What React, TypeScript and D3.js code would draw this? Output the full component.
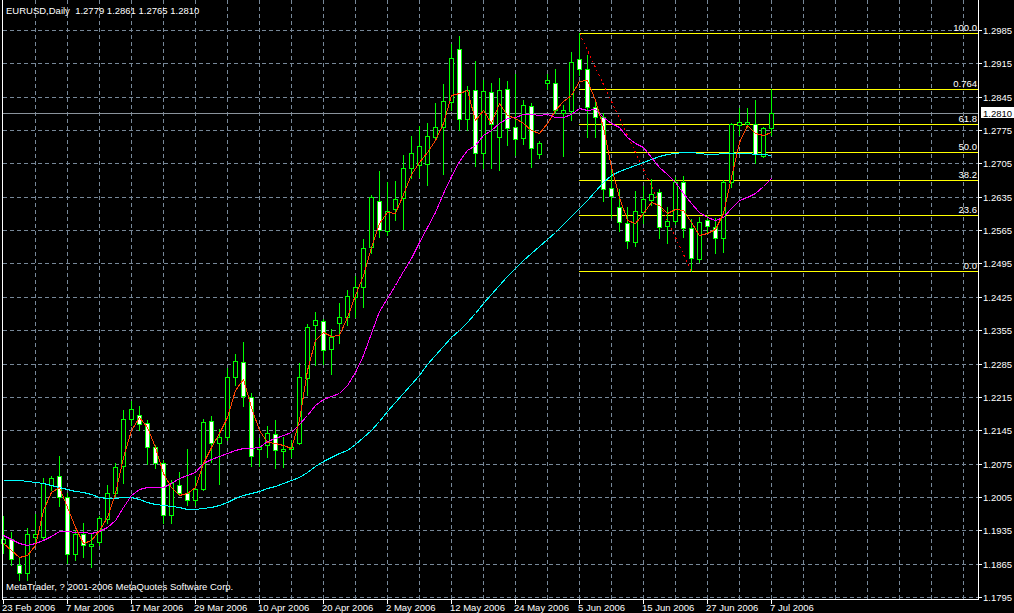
import React from "react";
import * as d3 from "d3";

const title = "EURUSD,Daily  1.2779 1.2861 1.2765 1.2810";
const copyright = "MetaTrader, ? 2001-2006 MetaQuotes Software Corp.";

const dateLabels = ["23 Feb 2006", "7 Mar 2006", "17 Mar 2006", "29 Mar 2006", "10 Apr 2006", "20 Apr 2006", "2 May 2006", "12 May 2006", "24 May 2006", "5 Jun 2006", "15 Jun 2006", "27 Jun 2006", "7 Jul 2006"];
const dateLabelBars = [0, 8, 16, 24, 32, 40, 48, 56, 64, 72, 80, 88, 96];

const priceTicks = [1.1795, 1.1865, 1.1935, 1.2005, 1.2075, 1.2145, 1.2215, 1.2285, 1.2355, 1.2425, 1.2495, 1.2565, 1.2635, 1.2705, 1.2775, 1.2845, 1.2915, 1.2985];
const priceTickLabels = ["1.1795", "1.1865", "1.1935", "1.2005", "1.2075", "1.2145", "1.2215", "1.2285", "1.2355", "1.2425", "1.2495", "1.2565", "1.2635", "1.2705", "1.2775", "1.2845", "1.2915", "1.2985"];

const opens = [1.1908, 1.1916, 1.1862, 1.1845, 1.1920, 1.1920, 1.2030, 1.2048, 1.2004, 1.1885, 1.1927, 1.1901, 1.1911, 1.1958, 1.2013, 1.2070, 1.2168, 1.2177, 1.2160, 1.2109, 1.2076, 1.1967, 1.2030, 1.2013, 1.1998, 1.2021, 1.2164, 1.2118, 1.2130, 1.2256, 1.2288, 1.2214, 1.2105, 1.2114, 1.2137, 1.2101, 1.2105, 1.2118, 1.2254, 1.2366, 1.2374, 1.2315, 1.2370, 1.2382, 1.2424, 1.2445, 1.2529, 1.2626, 1.2563, 1.2609, 1.2632, 1.2695, 1.2702, 1.2704, 1.2760, 1.2781, 1.2834, 1.2945, 1.2798, 1.2859, 1.2727, 1.2855, 1.2760, 1.2861, 1.2781, 1.2758, 1.2825, 1.2725, 1.2874, 1.2874, 1.2811, 1.2815, 1.2924, 1.2903, 1.2823, 1.2802, 1.2653, 1.2613, 1.2580, 1.2540, 1.2603, 1.2628, 1.2645, 1.2573, 1.2584, 1.2666, 1.2569, 1.2504, 1.2586, 1.2571, 1.2548, 1.2666, 1.2786, 1.2788, 1.2788, 1.2720, 1.2779];
const highs = [1.1966, 1.1931, 1.1876, 1.1939, 1.1970, 1.2044, 1.2048, 1.2090, 1.2013, 1.1935, 1.1950, 1.1927, 1.1964, 1.2030, 1.2076, 1.2187, 1.2206, 1.2195, 1.2166, 1.2114, 1.2082, 1.2040, 1.2057, 1.2105, 1.2048, 1.2168, 1.2174, 1.2147, 1.2275, 1.2305, 1.2330, 1.2223, 1.2128, 1.2153, 1.2166, 1.2130, 1.2124, 1.2286, 1.2368, 1.2393, 1.2378, 1.2357, 1.2412, 1.2439, 1.2468, 1.2546, 1.2639, 1.2689, 1.2666, 1.2668, 1.2723, 1.2762, 1.2783, 1.2790, 1.2832, 1.2872, 1.2956, 1.2972, 1.2867, 1.2920, 1.2880, 1.2874, 1.2884, 1.2878, 1.2893, 1.2838, 1.2832, 1.2752, 1.2893, 1.2903, 1.2828, 1.2939, 1.2978, 1.2932, 1.2836, 1.2811, 1.2691, 1.2651, 1.2613, 1.2647, 1.2657, 1.2672, 1.2651, 1.2613, 1.2676, 1.2678, 1.2588, 1.2592, 1.2597, 1.2590, 1.2670, 1.2790, 1.2821, 1.2821, 1.2838, 1.2781, 1.2861];
const lows = [1.1887, 1.1862, 1.1830, 1.1830, 1.1904, 1.1914, 1.2019, 1.1985, 1.1866, 1.1872, 1.1878, 1.1857, 1.1904, 1.1950, 1.2008, 1.2034, 1.2156, 1.2145, 1.2074, 1.2065, 1.1950, 1.1950, 1.2009, 1.1988, 1.1988, 1.2019, 1.2078, 1.2032, 1.2124, 1.2240, 1.2195, 1.2069, 1.2069, 1.2088, 1.2065, 1.2067, 1.2088, 1.2116, 1.2219, 1.2282, 1.2284, 1.2263, 1.2328, 1.2366, 1.2382, 1.2403, 1.2517, 1.2550, 1.2555, 1.2586, 1.2567, 1.2674, 1.2676, 1.2660, 1.2754, 1.2683, 1.2817, 1.2775, 1.2775, 1.2699, 1.2695, 1.2695, 1.2691, 1.2744, 1.2723, 1.2746, 1.2697, 1.2716, 1.2861, 1.2811, 1.2720, 1.2796, 1.2890, 1.2760, 1.2760, 1.2626, 1.2592, 1.2563, 1.2527, 1.2531, 1.2580, 1.2618, 1.2548, 1.2538, 1.2578, 1.2550, 1.2479, 1.2498, 1.2561, 1.2517, 1.2519, 1.2655, 1.2765, 1.2781, 1.2706, 1.2718, 1.2765];
const closes = [1.1916, 1.1874, 1.1845, 1.1927, 1.1927, 1.2034, 1.2044, 1.2004, 1.1885, 1.1927, 1.1904, 1.1906, 1.1960, 1.2013, 1.2067, 1.2168, 1.2189, 1.2158, 1.2109, 1.2076, 1.1967, 1.2034, 1.2013, 1.1998, 1.2021, 1.2162, 1.2118, 1.2130, 1.2256, 1.2290, 1.2216, 1.2090, 1.2109, 1.2139, 1.2103, 1.2105, 1.2109, 1.2256, 1.2361, 1.2376, 1.2313, 1.2340, 1.2382, 1.2426, 1.2445, 1.2527, 1.2634, 1.2565, 1.2605, 1.2630, 1.2695, 1.2727, 1.2741, 1.2762, 1.2781, 1.2836, 1.2926, 1.2798, 1.2859, 1.2727, 1.2857, 1.2788, 1.2859, 1.2779, 1.2756, 1.2828, 1.2737, 1.2748, 1.2880, 1.2817, 1.2817, 1.2918, 1.2903, 1.2823, 1.2802, 1.2651, 1.2636, 1.2582, 1.2542, 1.2605, 1.2630, 1.2641, 1.2571, 1.2584, 1.2666, 1.2569, 1.2506, 1.2582, 1.2573, 1.2548, 1.2666, 1.2788, 1.2792, 1.2792, 1.2725, 1.2779, 1.2810];

// moving averages (orange, magenta, cyan)
const maFast = [1.1908, 1.1893, 1.1878, 1.1883, 1.1904, 1.1977, 1.2015, 1.2025, 1.1983, 1.1941, 1.1908, 1.1914, 1.1935, 1.1962, 1.2013, 1.2088, 1.2145, 1.2172, 1.2151, 1.2109, 1.2055, 1.2025, 1.2009, 1.2013, 1.2025, 1.2076, 1.2109, 1.2139, 1.2172, 1.2229, 1.2252, 1.2193, 1.2145, 1.2120, 1.2118, 1.2114, 1.2107, 1.2166, 1.2271, 1.2334, 1.2351, 1.2342, 1.2345, 1.2382, 1.2429, 1.2471, 1.2529, 1.2580, 1.2603, 1.2601, 1.2641, 1.2683, 1.2708, 1.2729, 1.2754, 1.2790, 1.2849, 1.2853, 1.2859, 1.2796, 1.2817, 1.2790, 1.2832, 1.2807, 1.2800, 1.2790, 1.2775, 1.2769, 1.2790, 1.2817, 1.2836, 1.2849, 1.2878, 1.2880, 1.2838, 1.2781, 1.2697, 1.2634, 1.2586, 1.2580, 1.2601, 1.2624, 1.2618, 1.2601, 1.2609, 1.2607, 1.2582, 1.2555, 1.2559, 1.2567, 1.2601, 1.2676, 1.2750, 1.2786, 1.2769, 1.2765, 1.2771];
const maMid = [1.1925, 1.1916, 1.1908, 1.1904, 1.1908, 1.1914, 1.1922, 1.1933, 1.1933, 1.1931, 1.1931, 1.1929, 1.1933, 1.1941, 1.1956, 1.1983, 1.2009, 1.2021, 1.2025, 1.2025, 1.2025, 1.2034, 1.2044, 1.2051, 1.2057, 1.2076, 1.2084, 1.2090, 1.2097, 1.2103, 1.2107, 1.2107, 1.2109, 1.2122, 1.2128, 1.2135, 1.2141, 1.2158, 1.2177, 1.2198, 1.2210, 1.2216, 1.2223, 1.2240, 1.2267, 1.2303, 1.2349, 1.2395, 1.2422, 1.2450, 1.2479, 1.2506, 1.2540, 1.2571, 1.2603, 1.2643, 1.2678, 1.2710, 1.2733, 1.2744, 1.2765, 1.2775, 1.2790, 1.2800, 1.2802, 1.2809, 1.2809, 1.2807, 1.2809, 1.2802, 1.2802, 1.2809, 1.2821, 1.2817, 1.2819, 1.2802, 1.2790, 1.2781, 1.2760, 1.2748, 1.2739, 1.2718, 1.2697, 1.2683, 1.2666, 1.2643, 1.2622, 1.2603, 1.2592, 1.2586, 1.2592, 1.2611, 1.2628, 1.2634, 1.2643, 1.2657, 1.2674];
const maSlow = [1.2040, 1.2040, 1.2040, 1.2038, 1.2036, 1.2034, 1.2030, 1.2025, 1.2021, 1.2017, 1.2015, 1.2011, 1.2004, 1.2002, 1.2002, 1.2004, 1.2004, 1.2000, 1.1994, 1.1990, 1.1988, 1.1985, 1.1983, 1.1979, 1.1979, 1.1981, 1.1983, 1.1988, 1.1994, 1.2002, 1.2009, 1.2013, 1.2017, 1.2023, 1.2027, 1.2034, 1.2040, 1.2046, 1.2057, 1.2070, 1.2080, 1.2088, 1.2097, 1.2103, 1.2116, 1.2130, 1.2145, 1.2164, 1.2185, 1.2204, 1.2223, 1.2242, 1.2261, 1.2284, 1.2303, 1.2321, 1.2340, 1.2355, 1.2372, 1.2391, 1.2412, 1.2431, 1.2450, 1.2468, 1.2485, 1.2502, 1.2517, 1.2531, 1.2546, 1.2561, 1.2578, 1.2594, 1.2611, 1.2628, 1.2647, 1.2666, 1.2681, 1.2689, 1.2695, 1.2702, 1.2708, 1.2714, 1.2720, 1.2725, 1.2727, 1.2729, 1.2729, 1.2727, 1.2725, 1.2725, 1.2727, 1.2727, 1.2727, 1.2727, 1.2725, 1.2725, 1.2723];

const fibLevels = [0, 0.236, 0.382, 0.5, 0.618, 0.764, 1];
const fibLabels = ["0.0", "23.6", "38.2", "50.0", "61.8", "0.764", "100.0"];
const fibHigh = 1.2978;
const fibLow = 1.2479;
const fibHighBar = 72;
const fibLowBar = 86;
const bidPrice = 1.2810;
const bidLabel = "1.2810";

const W = 1014;
const H = 613;
const LEFT = 2;
const RIGHT = 978;
const BOTTOM = 599;
const FONT = "'Liberation Sans', Arial, sans-serif";
const FS = 9.5;
const GRID = "#778899";
const LIME = "#00ff00";

export default function App() {
  const x = d3.scaleLinear().domain([0, opens.length - 1]).range([3, 771]);
  const y = d3.scaleLinear().domain([1.1795, 1.2985]).range([597, 30]);
  const col = (i: number) => Math.round(x(i));
  const row = (p: number) => Math.round(y(p));

  const gridBars = d3.range(4, 200, 4).filter((b) => col(b) < RIGHT);

  const lineGen = (vals: number[]) =>
    d3
      .line<number>()
      .x((_, i) => col(i) + 0.5)
      .y((v) => row(v) + 0.5)(vals) || "";

  return (
    <svg
      width={W}
      height={H}
      style={{ position: "absolute", left: 0, top: 0, background: "#000", display: "block" }}
    >
      <rect x={0} y={0} width={W} height={H} fill="#000" />
      {/* grid */}
      <g stroke={GRID} strokeWidth={1} strokeDasharray="4,3" shapeRendering="crispEdges">
        {priceTicks.map((p, k) => (
          <line key={"h" + k} x1={LEFT + 1} x2={RIGHT} y1={row(p) + 0.5} y2={row(p) + 0.5} />
        ))}
        {gridBars.map((b) => (
          <line key={"v" + b} x1={col(b) + 0.5} x2={col(b) + 0.5} y1={0} y2={BOTTOM} />
        ))}
      </g>
      {/* bid line */}
      <line x1={LEFT} x2={RIGHT} y1={row(bidPrice) + 0.5} y2={row(bidPrice) + 0.5} stroke="#8a939c" strokeWidth={1} shapeRendering="crispEdges" />
      {/* fibo */}
      <g shapeRendering="crispEdges">
        {fibLevels.map((lv, k) => {
          const p = fibLow + lv * (fibHigh - fibLow);
          const r = row(p) + 0.5;
          return <line key={"f" + k} x1={col(fibHighBar)} x2={RIGHT} y1={r} y2={r} stroke="#ffff00" strokeWidth={1} />;
        })}
      </g>
      <line
        x1={col(fibHighBar) + 0.5}
        y1={row(fibHigh) + 0.5}
        x2={col(fibLowBar) + 0.5}
        y2={row(fibLow) + 0.5}
        stroke="#ff0000"
        strokeWidth={1}
        strokeDasharray="2,3"
        shapeRendering="crispEdges"
      />
      {/* candles */}
      <g shapeRendering="crispEdges">
        {opens.map((o, i) => {
          const c = closes[i];
          const cx = col(i);
          const top = row(Math.max(o, c));
          const bot = row(Math.min(o, c));
          const bull = c >= o;
          return (
            <g key={"c" + i}>
              <line x1={cx + 0.5} x2={cx + 0.5} y1={row(highs[i])} y2={row(lows[i]) + 1} stroke={LIME} strokeWidth={1} />
              {bot - top >= 1 ? (
                <rect x={cx - 1.5} y={top + 0.5} width={4} height={bot - top} fill={bull ? "#000" : "#fff"} stroke={LIME} strokeWidth={1} />
              ) : (
                <line x1={cx - 2} x2={cx + 3} y1={top + 0.5} y2={top + 0.5} stroke={LIME} strokeWidth={1} />
              )}
            </g>
          );
        })}
      </g>
      {/* moving averages */}
      <g fill="none" strokeWidth={1} shapeRendering="crispEdges">
        <path d={lineGen(maSlow)} stroke="#00ffff" />
        <path d={lineGen(maMid)} stroke="#ff00ff" />
        <path d={lineGen(maFast)} stroke="#ff4500" />
      </g>
      {/* fibo labels */}
      <g fill="#fff" fontFamily={FONT} fontSize={FS} textAnchor="end">
        {fibLevels.map((lv, k) => {
          const p = fibLow + lv * (fibHigh - fibLow);
          return (
            <text key={"fl" + k} x={977} y={row(p) - 2}>
              {fibLabels[k]}
            </text>
          );
        })}
      </g>
      {/* border */}
      <g stroke="#fff" strokeWidth={1} shapeRendering="crispEdges">
        <line x1={LEFT + 0.5} x2={LEFT + 0.5} y1={0} y2={BOTTOM + 1} />
        <line x1={RIGHT + 0.5} x2={RIGHT + 0.5} y1={0} y2={BOTTOM + 1} />
        <line x1={LEFT} x2={RIGHT + 1} y1={BOTTOM + 0.5} y2={BOTTOM + 0.5} />
      </g>
      {/* price axis */}
      <g fontFamily={FONT} fontSize={FS} fill="#fff">
        {priceTicks.map((p, k) => (
          <g key={"pt" + k}>
            <line x1={RIGHT + 1} x2={RIGHT + 4} y1={row(p) + 0.5} y2={row(p) + 0.5} stroke="#fff" shapeRendering="crispEdges" />
            <text x={983} y={row(p) + 3.5}>
              {priceTickLabels[k]}
            </text>
          </g>
        ))}
        <rect x={981} y={row(bidPrice) - 6} width={33} height={11} fill="#fff" />
        <text x={983} y={row(bidPrice) + 3.5} fill="#000">
          {bidLabel}
        </text>
      </g>
      {/* date axis */}
      <g fontFamily={FONT} fontSize={FS} fill="#fff">
        {dateLabelBars.map((b, k) => (
          <g key={"d" + k}>
            <line x1={col(b) + 0.5} x2={col(b) + 0.5} y1={BOTTOM + 1} y2={BOTTOM + 5} stroke="#fff" shapeRendering="crispEdges" />
            <text x={col(b) - 1} y={611}>
              {dateLabels[k]}
            </text>
          </g>
        ))}
      </g>
      <text x={6} y={13.5} fill="#fff" fontFamily={FONT} fontSize={FS} style={{ whiteSpace: "pre" }}>
        {title}
      </text>
      <text x={6} y={590} fill="#fff" fontFamily={FONT} fontSize={FS}>
        {copyright}
      </text>
    </svg>
  );
}
